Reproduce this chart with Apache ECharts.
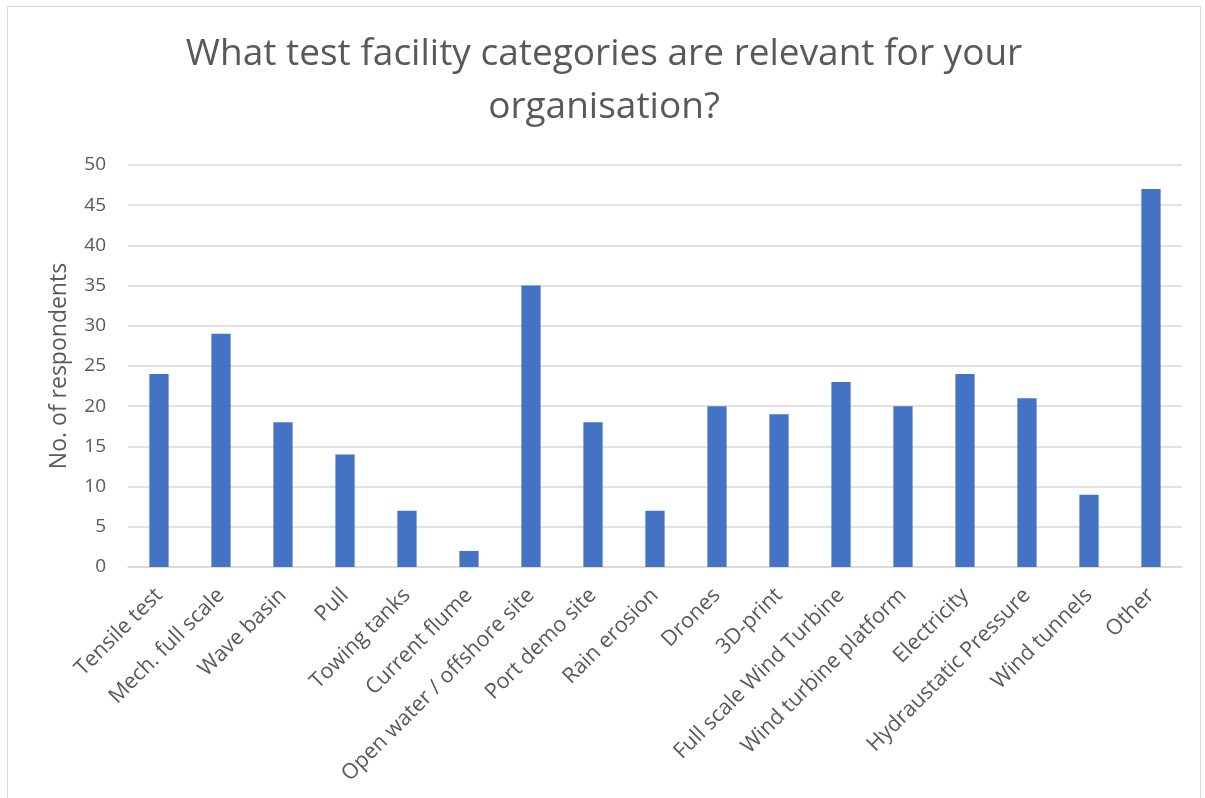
<!DOCTYPE html>
<html>
<head>
<meta charset="utf-8">
<script src="https://cdn.jsdelivr.net/npm/echarts@6/dist/echarts.min.js"></script>
<style>
    html, body { margin: 0; padding: 0; background: #ffffff; overflow: hidden; }
    #chart { position: absolute; left: 7px; top: 6px; width: 1194px; height: 800px; border: 1px solid #d9d9d9; box-sizing: border-box; }
</style>
</head>
<body>
<div id="chart"></div>
<script>
// 类别
var categories = ['Tensile test', 'Mech. full scale', 'Wave basin', 'Pull', 'Towing tanks', 'Current flume',
    'Open water / offshore site', 'Port demo site', 'Rain erosion', 'Drones', '3D-print', 'Full scale Wind Turbine',
    'Wind turbine platform', 'Electricity', 'Hydraustatic Pressure', 'Wind tunnels', 'Other'];
// 回答人数
var respondents = [24, 29, 18, 14, 7, 2, 35, 18, 7, 20, 19, 23, 20, 24, 21, 9, 47];
var yTicks = [0, 50, 5]; // min, max, interval

var chart = echarts.init(document.getElementById('chart'));
var option = {
    animation: false,
    title: {
        text: 'What test facility categories are relevant for your\norganisation?',
        left: 'center',
        top: 16,
        textStyle: {
            color: '#595959',
            fontSize: 37,
            fontWeight: 'normal',
            fontFamily: 'Open Sans',
            lineHeight: 53
        }
    },
    grid: {
        left: 120,
        right: 18,
        top: 158,
        bottom: 238
    },
    xAxis: {
        type: 'category',
        data: categories,
        axisLine: { lineStyle: { color: '#d9d9d9', width: 1.5 } },
        axisTick: { show: false },
        axisLabel: {
            rotate: 45,
            interval: 0,
            color: '#595959',
            fontSize: 21.5,
            fontFamily: 'Open Sans',
            margin: 25
        }
    },
    yAxis: {
        type: 'value',
        min: yTicks[0],
        max: yTicks[1],
        interval: yTicks[2],
        name: 'No. of respondents',
        nameLocation: 'middle',
        nameGap: 57,
        nameTextStyle: { color: '#595959', fontSize: 23, fontFamily: 'Open Sans' },
        axisLine: { show: false },
        axisTick: { show: false },
        axisLabel: { color: '#595959', fontSize: 19, fontFamily: 'Open Sans', margin: 22 },
        splitLine: { lineStyle: { color: '#d9d9d9', width: 1.5 } }
    },
    series: [
        {
            type: 'bar',
            data: respondents,
            barWidth: '31%',
            itemStyle: { color: '#4472c4' }
        }
    ]
};
chart.setOption(option);
</script>
</body>
</html>
